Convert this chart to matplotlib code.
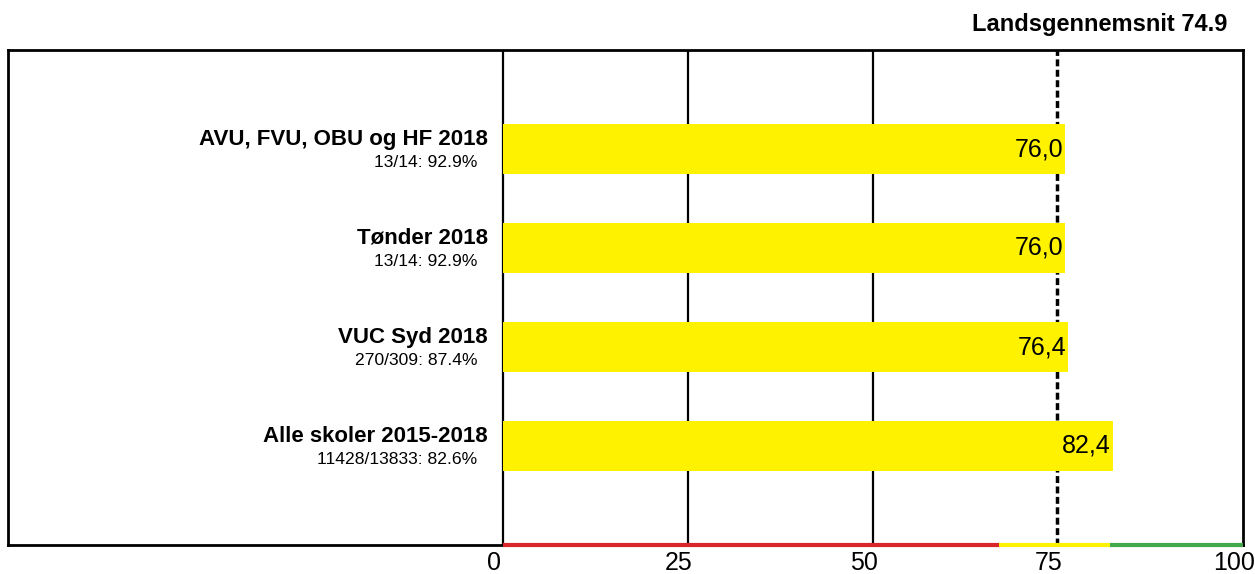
import numpy as np
import matplotlib.pyplot as plt
from matplotlib.transforms import offset_copy

plt.rcParams['font.family'] = ['Liberation Sans', 'DejaVu Sans']

# data
names = ['AVU, FVU, OBU og HF 2018', 'Tønder 2018', 'VUC Syd 2018', 'Alle skoler 2015-2018']
counts = ['13/14: 92.9%', '13/14: 92.9%', '270/309: 87.4%', '11428/13833: 82.6%']
values = [76.0, 76.0, 76.4, 82.4]
national_avg = 74.9
ticks = [0, 25, 50, 75, 100]
band_edges = [0, 67, 82, 100]
band_colors = ['#d9262b', '#fff200', '#3fa94c']

W, H = 1255, 574
fig = plt.figure(figsize=(W / 100, H / 100), dpi=100)
left, right, top, bottom = 8, 1243, 50, 545
ax = fig.add_axes([left / W, 1 - bottom / H, (right - left) / W, (bottom - top) / H])

px = (right - 503) / 100.0  # pixels per unit
ax.set_xlim(-(503 - left) / px, 100)
ax.set_ylim(0, 5)

ypos = np.arange(len(names), 0, -1)

for t in ticks[:3]:
    ax.axvline(t, color='black', lw=1.6, zorder=1)
ax.axvline(national_avg, color='black', lw=2.5, linestyle=(0, (2, 1)), zorder=1.5)

ax.barh(ypos, values, height=0.5, color='#fff200', zorder=2)

for y, v, n, c in zip(ypos, values, names, counts):
    ax.text(v - 0.3, y, f'{v:.1f}'.replace('.', ','), ha='right', va='center',
            fontsize=18, zorder=4)
    ax.text(-15 / px, y + 0.1, n, ha='right', va='center', fontsize=16,
            fontweight='bold')
    ax.text(-26 / px, y - 0.14, c, ha='right', va='center', fontsize=12.6)

for x0, x1, col in zip(band_edges[:-1], band_edges[1:], band_colors):
    ax.plot([x0, x1], [0, 0], color=col, lw=3, solid_capstyle='butt',
            clip_on=False, zorder=5)

for s in ax.spines.values():
    s.set_linewidth(2)
ax.set_xticks([])
ax.set_yticks([])
lbl_tr = offset_copy(ax.get_xaxis_transform(), fig=fig, x=-9, y=0, units='dots')
for t in ticks:
    ax.text(t, -0.037, str(t), transform=lbl_tr, ha='center', va='center',
            fontsize=18)

fig.text(1227 / W, 1 - 25 / H, f'Landsgennemsnit {national_avg}', ha='right',
         va='center', fontsize=17, fontweight='bold')

fig.savefig('out.png', dpi=100, facecolor='white')
